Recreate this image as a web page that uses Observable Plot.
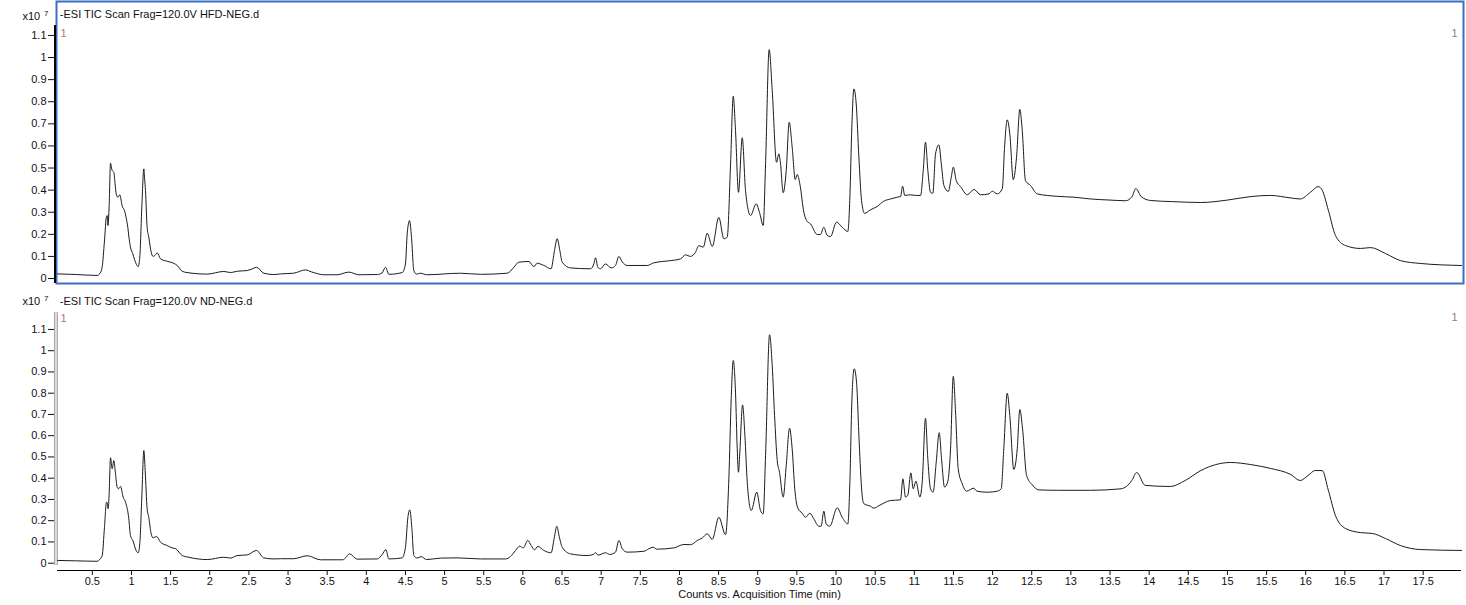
<!DOCTYPE html>
<html><head><meta charset="utf-8">
<script src="https://cdn.jsdelivr.net/npm/d3@7"></script>
<script src="https://cdn.jsdelivr.net/npm/@observablehq/plot@0.6"></script>
<style>
body{margin:0;background:#fff;}
#chart{width:1466px;height:605px;position:relative;overflow:hidden;}
#chart svg{display:block;}
</style></head><body><div id="chart"></div>
<script>
// ---- texts ----
const panelTitles = ["-ESI TIC Scan Frag=120.0V HFD-NEG.d", "-ESI TIC Scan Frag=120.0V ND-NEG.d"];
const exponentBase = "x10";
const exponentPower = "7";
const cornerLabel = "1";
const xAxisLabel = "Counts vs. Acquisition Time (min)";

// ---- ticks ----
const timeTicks = [0.5,1,1.5,2,2.5,3,3.5,4,4.5,5,5.5,6,6.5,7,7.5,8,8.5,9,9.5,10,10.5,11,11.5,12,12.5,13,13.5,14,14.5,15,15.5,16,16.5,17,17.5];
const countTicks = [0,0.1,0.2,0.3,0.4,0.5,0.6,0.7,0.8,0.9,1,1.1];

// ---- HFD-NEG trace (counts x10^7) ----
const hfdTime = [0.055,0.3,0.56,0.6,0.625,0.655,0.68,0.69,0.70,0.715,0.732,0.745,0.754,0.774,0.79,0.805,0.825,0.851,0.865,0.88,0.91,0.935,0.953,0.97,0.987,1.017,1.04,1.064,1.085,1.106,1.132,1.158,1.168,1.179,1.2,1.221,1.252,1.277,1.3,1.329,1.371,1.456,1.54,1.584,1.648,1.71,1.967,2.18,2.265,2.35,2.478,2.55,2.597,2.69,2.818,2.904,3.07,3.223,3.3,3.457,3.628,3.776,3.904,4.14,4.2,4.245,4.288,4.458,4.5,4.522,4.552,4.577,4.607,4.641,4.692,4.77,5.2,5.46,5.8,5.885,5.948,6.076,6.14,6.183,6.268,6.36,6.404,6.438,6.472,6.502,6.608,6.864,6.906,6.928,6.957,6.99,7.055,7.128,7.183,7.226,7.27,7.332,7.588,7.673,7.886,8.014,8.078,8.141,8.205,8.247,8.304,8.355,8.419,8.503,8.567,8.61,8.653,8.687,8.716,8.754,8.802,8.844,8.908,8.98,9.027,9.07,9.1,9.146,9.185,9.24,9.27,9.291,9.325,9.364,9.402,9.44,9.479,9.504,9.538,9.589,9.624,9.675,9.76,9.8,9.844,9.887,9.93,10.006,10.079,10.151,10.177,10.202,10.228,10.258,10.292,10.326,10.364,10.44,10.526,10.61,10.696,10.782,10.825,10.85,10.878,10.95,11.015,11.08,11.114,11.143,11.173,11.207,11.237,11.271,11.314,11.345,11.378,11.434,11.472,11.498,11.536,11.591,11.677,11.762,11.847,11.954,11.996,12.06,12.124,12.153,12.187,12.22,12.264,12.306,12.348,12.379,12.42,12.485,12.57,12.825,13.04,13.25,13.5,13.7,13.78,13.83,13.9,14.02,14.3,14.66,15.0,15.3,15.55,15.8,15.93,16.06,16.16,16.21,16.29,16.38,16.51,16.7,16.83,17.02,17.21,17.47,17.99];
const hfdCounts = [0.021,0.018,0.014,0.025,0.051,0.17,0.28,0.285,0.24,0.33,0.522,0.50,0.489,0.481,0.43,0.383,0.368,0.379,0.36,0.33,0.308,0.27,0.232,0.18,0.142,0.112,0.085,0.063,0.054,0.096,0.323,0.496,0.45,0.398,0.232,0.187,0.119,0.1,0.105,0.116,0.089,0.078,0.069,0.059,0.033,0.027,0.02,0.032,0.027,0.033,0.036,0.045,0.051,0.024,0.018,0.021,0.024,0.039,0.03,0.017,0.017,0.029,0.017,0.018,0.025,0.051,0.019,0.027,0.066,0.202,0.262,0.187,0.036,0.02,0.024,0.017,0.024,0.019,0.024,0.051,0.074,0.077,0.054,0.069,0.059,0.044,0.127,0.18,0.127,0.074,0.048,0.044,0.066,0.094,0.051,0.044,0.066,0.048,0.059,0.1,0.075,0.059,0.059,0.071,0.081,0.089,0.107,0.1,0.119,0.149,0.142,0.205,0.145,0.277,0.18,0.187,0.519,0.825,0.67,0.39,0.637,0.398,0.285,0.338,0.293,0.24,0.519,1.036,0.851,0.526,0.564,0.519,0.388,0.489,0.707,0.594,0.448,0.471,0.428,0.3,0.262,0.247,0.199,0.199,0.232,0.195,0.19,0.255,0.232,0.213,0.368,0.685,0.858,0.79,0.549,0.353,0.295,0.311,0.326,0.35,0.36,0.368,0.371,0.418,0.376,0.379,0.376,0.376,0.489,0.617,0.489,0.39,0.386,0.564,0.605,0.519,0.421,0.394,0.458,0.504,0.443,0.416,0.379,0.403,0.379,0.383,0.395,0.383,0.406,0.594,0.718,0.655,0.447,0.549,0.765,0.67,0.443,0.421,0.383,0.372,0.368,0.36,0.355,0.352,0.37,0.407,0.37,0.353,0.348,0.344,0.355,0.371,0.376,0.365,0.36,0.39,0.416,0.4,0.308,0.195,0.149,0.136,0.14,0.113,0.081,0.068,0.059];

// ---- ND-NEG trace (counts x10^7) ----
const ndTime = [0.055,0.3,0.56,0.6,0.626,0.655,0.681,0.69,0.702,0.715,0.732,0.754,0.774,0.796,0.817,0.835,0.86,0.894,0.924,0.966,0.987,1.017,1.064,1.085,1.106,1.132,1.158,1.175,1.2,1.221,1.252,1.277,1.32,1.371,1.456,1.52,1.565,1.648,1.73,1.967,2.18,2.265,2.35,2.478,2.597,2.69,2.818,2.904,3.07,3.245,3.415,3.7,3.734,3.785,3.883,4.14,4.203,4.249,4.288,4.458,4.5,4.531,4.556,4.581,4.607,4.65,4.7,4.77,4.95,5.16,5.46,5.78,5.84,5.906,5.96,6.004,6.063,6.106,6.149,6.191,6.268,6.36,6.404,6.433,6.464,6.502,6.608,6.822,6.9,6.928,6.96,7.055,7.11,7.183,7.226,7.27,7.332,7.545,7.609,7.665,7.71,7.928,8.056,8.141,8.183,8.227,8.29,8.355,8.419,8.503,8.589,8.631,8.661,8.687,8.716,8.738,8.754,8.77,8.806,8.836,8.866,8.917,8.988,9.035,9.07,9.1,9.151,9.185,9.215,9.249,9.278,9.325,9.364,9.406,9.44,9.473,9.512,9.568,9.61,9.665,9.716,9.78,9.81,9.844,9.874,9.92,10.015,10.079,10.151,10.177,10.202,10.232,10.262,10.296,10.33,10.356,10.44,10.483,10.55,10.696,10.824,10.854,10.888,10.917,10.956,10.986,11.02,11.071,11.101,11.143,11.17,11.207,11.24,11.28,11.318,11.348,11.386,11.428,11.463,11.498,11.527,11.561,11.612,11.667,11.76,11.8,11.932,12.06,12.11,12.143,12.187,12.22,12.271,12.315,12.348,12.383,12.434,12.506,12.59,12.83,13.25,13.64,13.78,13.84,13.95,14.27,14.46,14.66,14.85,15.04,15.3,15.55,15.81,15.93,16.03,16.12,16.21,16.29,16.38,16.51,16.7,16.85,17.02,17.21,17.47,17.99];
const ndCounts = [0.013,0.011,0.009,0.02,0.036,0.169,0.287,0.285,0.256,0.33,0.496,0.444,0.483,0.421,0.358,0.35,0.361,0.311,0.287,0.209,0.13,0.107,0.056,0.049,0.091,0.311,0.53,0.436,0.256,0.216,0.138,0.119,0.126,0.099,0.083,0.072,0.068,0.036,0.028,0.017,0.028,0.024,0.036,0.039,0.06,0.025,0.02,0.021,0.021,0.035,0.016,0.016,0.025,0.044,0.019,0.02,0.041,0.064,0.02,0.025,0.075,0.216,0.251,0.169,0.036,0.024,0.031,0.017,0.024,0.025,0.02,0.02,0.031,0.06,0.08,0.072,0.107,0.083,0.063,0.079,0.06,0.049,0.126,0.174,0.126,0.075,0.044,0.036,0.041,0.05,0.038,0.049,0.041,0.052,0.107,0.068,0.052,0.056,0.068,0.075,0.066,0.072,0.088,0.087,0.094,0.107,0.118,0.138,0.112,0.216,0.134,0.397,0.774,0.954,0.805,0.538,0.428,0.514,0.745,0.601,0.381,0.248,0.334,0.248,0.232,0.507,1.075,0.93,0.695,0.483,0.428,0.311,0.46,0.635,0.538,0.35,0.259,0.235,0.216,0.235,0.209,0.174,0.174,0.245,0.185,0.174,0.261,0.216,0.185,0.381,0.758,0.915,0.852,0.569,0.334,0.28,0.268,0.259,0.271,0.295,0.298,0.397,0.311,0.32,0.425,0.35,0.386,0.311,0.381,0.682,0.507,0.35,0.334,0.475,0.614,0.491,0.358,0.385,0.538,0.879,0.711,0.444,0.374,0.339,0.353,0.339,0.334,0.339,0.35,0.538,0.8,0.695,0.441,0.538,0.723,0.632,0.413,0.369,0.345,0.343,0.343,0.35,0.39,0.427,0.366,0.361,0.389,0.436,0.464,0.474,0.464,0.446,0.417,0.389,0.413,0.436,0.436,0.342,0.224,0.163,0.144,0.14,0.116,0.083,0.064,0.06];

// ---- rendering ----
const FONT = "'Liberation Sans', Arial, Helvetica, sans-serif";
const BLUE = "#3a6fc4";
const INK = "#111";
const CORNER = "#a07a7a";
const TRACE = "#1c1c1c";
const xDomain = [0.055, 17.99];
const fmt = d => String(+d.toFixed(1));
const toRows = (t, v) => t.map((x, i) => ({t: x, v: v[i]}));

function textMark(str, opts) {
  return Plot.text([str], {text: d => d, fontSize: 11, fill: INK, textAnchor: "start", lineAnchor: "top", ...opts});
}

function panel({title, rows, height, marginTop, marginBottom, yDomain, isTop}) {
  const marks = [];
  if (isTop) {
    marks.push(Plot.frame({stroke: BLUE, strokeWidth: 2, insetLeft: -1, insetRight: -2, insetTop: -3, insetBottom: -1}));
    marks.push(Plot.ruleX([xDomain[0]], {stroke: "#000", strokeWidth: 2, dx: -2.5, insetTop: 21, insetBottom: -1}));
  } else {
    marks.push(Plot.ruleX([xDomain[0]], {stroke: "#888", strokeWidth: 1, dx: -2.7, insetTop: 6, insetBottom: 5}));
    marks.push(Plot.ruleX([xDomain[0]], {stroke: "#888", strokeWidth: 1, dx: -0.3, insetTop: 6, insetBottom: 5}));
    marks.push(Plot.ruleY([yDomain[0]], {x1: xDomain[0], x2: xDomain[1], stroke: "#000", strokeWidth: 1}));
    marks.push(Plot.axisX(timeTicks, {anchor: "bottom", tickSize: 5, tickPadding: 2, tickFormat: fmt, fontSize: 11, color: INK, label: null}));
    marks.push(textMark(xAxisLabel, {frameAnchor: "bottom", textAnchor: "middle", dy: 20}));
  }
  marks.push(Plot.axisY(countTicks, {anchor: "left", tickSize: 6, tickPadding: 2, dx: -3, tickFormat: fmt, fontSize: 11, color: INK, label: null}));
  marks.push(Plot.line(rows, {x: "t", y: "v", stroke: TRACE, strokeWidth: 1, curve: "monotone-x"}));
  const ty = isTop ? 6 : -9;
  marks.push(textMark(exponentBase, {frameAnchor: "top-left", dx: -35, dy: isTop ? 8 : -9.3}));
  marks.push(textMark(exponentPower, {frameAnchor: "top-left", dx: -13.5, dy: isTop ? 6 : -11, fontSize: 8}));
  marks.push(textMark(title, {frameAnchor: "top-left", dx: 2.3, dy: ty}));
  marks.push(textMark(cornerLabel, {frameAnchor: "top-left", dx: 3, dy: isTop ? 25 : 8, fill: CORNER}));
  marks.push(textMark(cornerLabel, {frameAnchor: "top-right", dx: -4, dy: isTop ? 25 : 7, fill: CORNER, textAnchor: "end"}));

  return Plot.plot({
    width: 1466, height,
    marginLeft: 57, marginRight: 5, marginTop, marginBottom,
    x: {domain: xDomain, axis: null},
    y: {domain: yDomain, axis: null},
    style: {fontFamily: FONT, fontSize: "11px", background: "#fff", overflow: "visible"},
    marks
  });
}

const chart = document.getElementById("chart");
chart.appendChild(panel({title: panelTitles[0], rows: toRows(hfdTime, hfdCounts), height: 287, marginTop: 4, marginBottom: 5, yDomain: [-0.018, 1.24], isTop: true}));
chart.appendChild(panel({title: panelTitles[1], rows: toRows(ndTime, ndCounts), height: 318, marginTop: 19, marginBottom: 35, yDomain: [-0.0344, 1.208], isTop: false}));
</script>
</body></html>
